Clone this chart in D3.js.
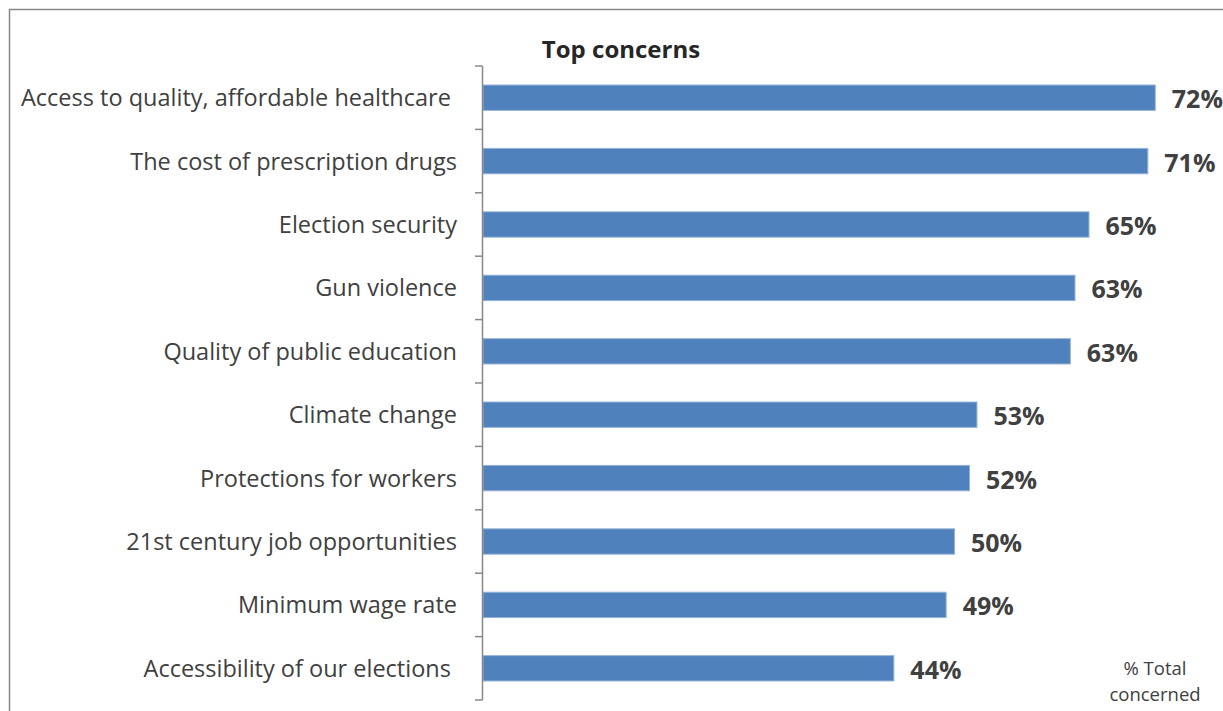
<!DOCTYPE html>
<html>
<head>
<meta charset="utf-8">
<script src="https://cdn.jsdelivr.net/npm/d3@7"></script>
<style>
  body { margin: 0; background: #fff; }
  text { font-family: "Open Sans", "Noto Sans", sans-serif; fill: #404040; white-space: pre; }
</style>
</head>
<body>
<svg id="chart" width="1223" height="711"></svg>
<script>
var categories = [
  'Access to quality, affordable healthcare ',
  'The cost of prescription drugs',
  'Election security',
  'Gun violence',
  'Quality of public education',
  'Climate change',
  'Protections for workers',
  '21st century job opportunities',
  'Minimum wage rate',
  'Accessibility of our elections '
];
var values = [72.0, 71.2, 64.9, 63.4, 62.9, 52.9, 52.1, 50.5, 49.6, 44.0];
var valueLabels = ['72%', '71%', '65%', '63%', '63%', '53%', '52%', '50%', '49%', '44%'];

var svg = d3.select('#chart');

// outer frame (chart area border)
svg.append('path')
   .attr('d', 'M 9.5,711 L 9.5,9.5 L 1223,9.5')
   .attr('fill', 'none')
   .attr('stroke', '#888')
   .attr('stroke-width', 1.5);

var x = d3.scaleLinear().domain([0, 72]).range([483, 1155.3]);
var y = d3.scaleBand().domain(categories).range([66, 700]).paddingInner(0.6).paddingOuter(0.3);

// bars
svg.selectAll('rect.bar')
   .data(values)
   .enter().append('rect')
   .attr('class', 'bar')
   .attr('x', x(0))
   .attr('y', function(d, i){ return y(categories[i]); })
   .attr('width', function(d){ return x(d) - x(0); })
   .attr('height', y.bandwidth())
   .attr('fill', '#4F81BD')
   .attr('stroke', '#95B3D7')
   .attr('stroke-width', 1);

// axis with category boundary ticks
var boundaries = d3.range(categories.length + 1).map(function(i){ return 66 + i * (634 / categories.length); });
var axis = svg.append('g');
axis.append('line')
   .attr('x1', 482.5).attr('x2', 482.5)
   .attr('y1', 66).attr('y2', 700)
   .attr('stroke', '#888').attr('stroke-width', 1.5);
axis.selectAll('line.tick')
   .data(boundaries)
   .enter().append('line')
   .attr('class', 'tick')
   .attr('x1', 475).attr('x2', 482.5)
   .attr('y1', function(d){ return d; }).attr('y2', function(d){ return d; })
   .attr('stroke', '#888').attr('stroke-width', 1.5);

// category labels
svg.selectAll('text.cat')
   .data(categories)
   .enter().append('text')
   .attr('class', 'cat')
   .attr('x', 457)
   .attr('y', function(d){ return y(d) + y.bandwidth() / 2 + 8.5; })
   .attr('text-anchor', 'end')
   .style('font-size', '23.5px')
   .text(function(d){ return d; });

// value labels
svg.selectAll('text.val')
   .data(values)
   .enter().append('text')
   .attr('class', 'val')
   .attr('x', function(d){ return x(d) + 16.5; })
   .attr('y', function(d, i){ return y(categories[i]) + y.bandwidth() / 2 + 10.5; })
   .style('font-size', '25px')
   .style('font-weight', 'bold')
   .text(function(d, i){ return valueLabels[i]; });

// title
svg.append('text')
   .attr('x', 621)
   .attr('y', 58)
   .attr('text-anchor', 'middle')
   .style('font-size', '24px')
   .style('font-weight', 'bold')
   .style('fill', '#262626')
   .text('Top concerns');

// note
var note = svg.append('text')
   .attr('x', 1155)
   .attr('y', 675)
   .attr('text-anchor', 'middle')
   .style('font-size', '18.5px');
note.append('tspan').attr('x', 1155).text('% Total');
note.append('tspan').attr('x', 1155).attr('dy', 26).text('concerned');
</script>
</body>
</html>
